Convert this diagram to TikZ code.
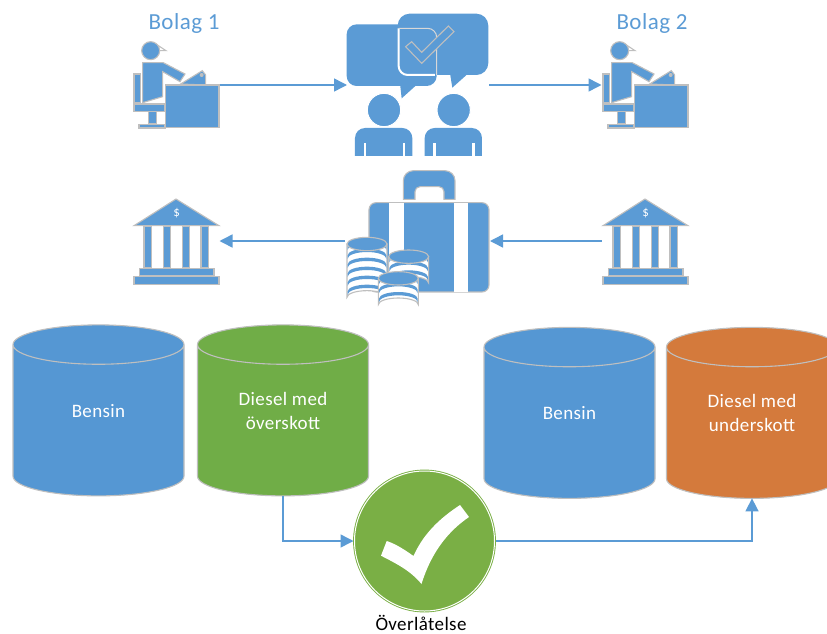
\documentclass[tikz,border=0pt]{standalone}
\usepackage{fontspec}
\setmainfont[LetterSpace=2]{Carlito}
\usepackage{tikz}
\usetikzlibrary{shapes.geometric,arrows.meta}

\definecolor{iconblue}{HTML}{5B9BD5}
\definecolor{tankblue}{HTML}{5597D3}
\definecolor{tankgreen}{HTML}{70AD47}
\definecolor{tankorange}{HTML}{D47A3C}
\definecolor{okgreen}{HTML}{7AAF45}
\definecolor{edgegray}{HTML}{BFBFBF}

\newcommand{\coinstack}[3]{
	\filldraw[icon, fill=white] (#1-60,#2) -- (#1-60,#2+#3*27-2) arc[start angle=180,end angle=360,x radius=60,y radius=20] -- (#1+60,#2) -- cycle;
	\foreach \n in {1,...,#3}{
		\fill[iconblue] (#1-58,#2+\n*27-20) arc[start angle=180,end angle=360,x radius=58,y radius=20] -- (#1+58,#2+\n*27-10) arc[start angle=360,end angle=180,x radius=58,y radius=20] -- cycle;
	}
	\filldraw[icon] (#1,#2) ellipse [x radius=60,y radius=20];
}

\tikzset{
	icon/.style={draw=edgegray, fill=iconblue, line width=1.1pt},
	iconbox/.style={inner sep=0pt, outer sep=0pt, minimum width=#1},
	tank/.style={cylinder, shape border rotate=90, aspect=1.4, draw=edgegray, line width=1.1pt,
		minimum width=171pt, minimum height=171pt, inner sep=0pt, outer sep=0pt,
		cylinder uses custom fill, cylinder body fill=#1, cylinder end fill=#1},
	tanklabel/.style={text=white, align=center, font=\fontsize{19}{24}\selectfont},
	title/.style={text=iconblue, font=\fontsize{23}{26}\selectfont},
	flow/.style={draw=iconblue, line width=1.5pt, -{Triangle[length=13pt,width=13pt]}},
	clerk/.pic={
		\begin{scope}[shift={(-168,-255)}]
		%chair
		\filldraw[icon] (42,222) rectangle (62,308);
		\filldraw[icon] (42,312) rectangle (135,334);
		\filldraw[icon] (85,334) rectangle (110,372);
		\filldraw[icon] (57,374) rectangle (135,384);
		%person
		\draw[edgegray, line width=1.1pt] (100,127) -- (138,152) -- (115,152);
		\filldraw[icon] (92,152) circle (27);
		\filldraw[icon] (68,188) -- (130,188) -- (195,222) -- (180,245) -- (128,215) -- (128,290) -- (68,308) -- cycle;
		%desk
		\filldraw[icon] (182,252) -- (247,212) -- (257,225) -- (257,255) -- cycle;
		\fill[edgegray] (245,225) circle (6);
		\filldraw[icon] (137,255) rectangle (297,383);
		\end{scope}
	},
	bank/.pic={
		\begin{scope}[shift={(-168,-228)}]
		\filldraw[icon] (42,182) -- (168,102) -- (297,182) -- cycle;
		\node[text=white, font=\fontsize{13}{13}\selectfont] (dollar) at (170,145) {\$};
		\foreach \x in {72,130,187,243}
			\filldraw[icon] (\x,184) rectangle (\x+22,308);
		\filldraw[icon] (58,310) rectangle (282,332);
		\filldraw[icon] (42,334) rectangle (297,358);
		\end{scope}
	},
}

\begin{document}
\begin{tikzpicture}[x=1pt,y=-1pt]
	\path[use as bounding box, clip] (0,0) rectangle (827,634);

	%icon places
	\node[iconbox=87pt, minimum height=87pt] (clerkA) at (176,85) {};
	\node[iconbox=87pt, minimum height=87pt] (clerkB) at (645,85) {};
	\node[iconbox=142pt, minimum height=143pt] (talk) at (418,85) {};
	\node[iconbox=87pt, minimum height=87pt] (bankA) at (176,241) {};
	\node[iconbox=87pt, minimum height=87pt] (bankB) at (645,241) {};
	\node[iconbox=145pt, minimum height=142pt] (money) at (417.5,241) {};

	%tanks
	\node[tank=tankblue] (bensinA) at (98.5,420.5) {\phantom{Bensin}};
	\node[tank=tankgreen] (dieselA) at (283,420.5) {\phantom{Bensin}};
	\node[tank=tankblue] (bensinB) at (569.5,423) {\phantom{Bensin}};
	\node[tank=tankorange] (dieselB) at (752,423) {\phantom{Bensin}};
	\node[tanklabel] (bensinAtext) at (98.5,411) {Bensin};
	\node[tanklabel] (dieselAtext) at (283,411) {Diesel med\\överskott};
	\node[tanklabel] (bensinBtext) at (569.5,413) {Bensin};
	\node[tanklabel] (dieselBtext) at (752,413) {Diesel med\\underskott};

	%titles
	\node[title] (bolagA) at (184,23) {Bolag 1};
	\node[title] (bolagB) at (652,23) {Bolag 2};

	%check
	\node[circle, minimum size=140pt, inner sep=0pt, outer sep=1pt, fill=okgreen, draw=okgreen, double=white, double distance=1pt, line width=0.9pt] (check) at (424.5,541) {};
	\fill[white] (381,555.7) -- ++(5.7,-14.7) .. controls (396,544) and (405,550) .. (413.5,556) .. controls (425,530) and (445,515) .. (460,505) -- (469,517) .. controls (450,530) and (432,550) .. (421.5,584) .. controls (410,570) and (395,563) .. (381,555.7) -- cycle;
	\node[font=\fontsize{19}{22}\selectfont, inner sep=0pt, anchor=base] (overlatelse) at (421,630) {Överlåtelse};

	%connectors
	\draw[flow] (clerkA.east) -- (talk.west);
	\draw[flow] (talk.east) -- (clerkB.west);
	\draw[flow] (bankB.west) -- (money.east);
	\draw[flow] (money.west) -- (bankA.east);
	\draw[flow] (dieselA.south) |- (check.west);
	\draw[flow] (check.east) -| (dieselB.south);

	%clerks and banks
	\pic[scale=1/3] at (clerkA.center) {clerk};
	\pic[scale=1/3] at (clerkB.center) {clerk};
	\pic[scale=1/3] at (bankA.center) {bank};
	\pic[scale=1/3] at (bankB.center) {bank};

	%talk
	\begin{scope}[scale=1/3, shift={(360,0)}]
		\fill[iconblue, rounded corners=10pt] (680,73) rectangle (950,258);
		\fill[iconblue] (840,250) -- (845,295) -- (895,250) -- cycle;
		\fill[iconblue, rounded corners=12pt] (833,41) rectangle (1105,225);
		\fill[iconblue] (990,220) -- (997,263) -- (1045,220) -- cycle;
		\draw[white, line width=2pt, rounded corners=9pt] (836,85) -- (836,225) -- (945,225);
		\draw[edgegray!60!white, line width=1pt, rounded corners=9pt] (836,85) -- (950,85) -- (950,225);
		\filldraw[icon] (857,140) -- (875,125) -- (905,157) -- (985,78) -- (1002,95) -- (905,190) -- cycle;
		\filldraw[iconblue, draw=white, line width=1pt] (792,330) circle (50);
		\filldraw[iconblue, draw=white, line width=1pt] (1001,330) circle (50);
		\foreach \x in {705,914}{
			\fill[iconblue] (\x,468) [rounded corners=10pt] -- (\x,384) -- (\x+172,384) [sharp corners] -- (\x+172,468) -- cycle;
			\fill[white] (\x+26,430) rectangle (\x+33,468);
			\fill[white] (\x+143,430) rectangle (\x+150,468);
		}
	\end{scope}

	%money
	\begin{scope}[scale=1/3, shift={(360,495)}]
		\filldraw[icon] (850,103) [rounded corners=10pt] -- (850,17) -- (1005,17) [sharp corners] -- (1005,103) -- (972,103) [rounded corners=5pt] -- (972,65) -- (885,65) [sharp corners] -- (885,103) -- cycle;
		\filldraw[icon, rounded corners=7pt] (747,113) rectangle (1107,381);
		\fill[white] (808,115) rectangle (852,380);
		\fill[white] (1001,115) rectangle (1045,380);
		\coinstack{866}{275}{3}
		\coinstack{741}{237}{6}
		\coinstack{835}{340}{3}
	\end{scope}
\end{tikzpicture}
\end{document}
